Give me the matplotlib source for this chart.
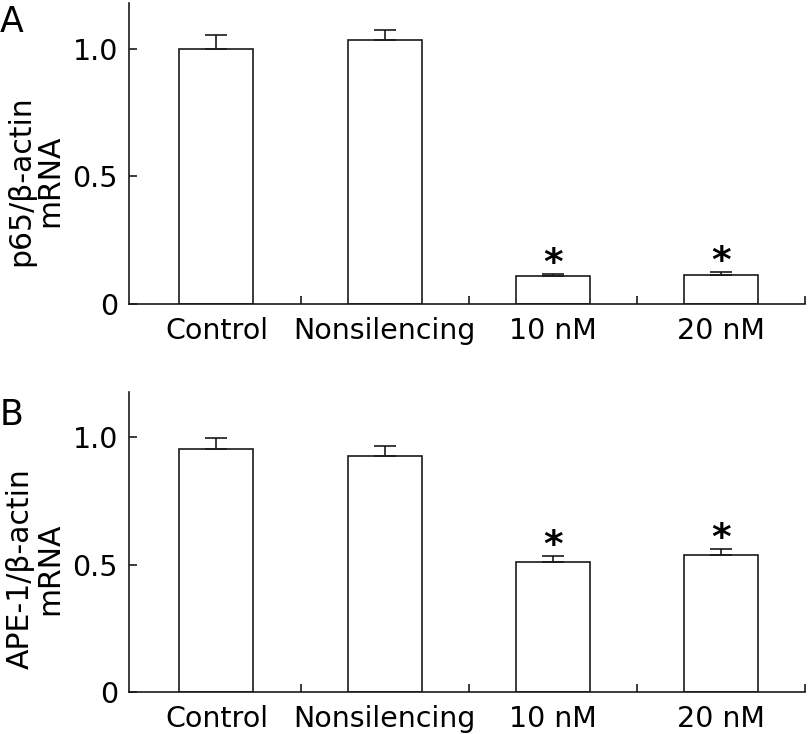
import matplotlib
matplotlib.use("Agg")
import matplotlib.pyplot as plt
import numpy as np

categories = ["Control", "Nonsilencing", "10 nM", "20 nM"]

# panel A: p65 / beta-actin mRNA
p65_mean = [1.00, 1.035, 0.110, 0.113]
p65_err = [0.053, 0.040, 0.007, 0.014]

# panel B: APE-1 / beta-actin mRNA
ape1_mean = [0.955, 0.927, 0.509, 0.537]
ape1_err = [0.043, 0.040, 0.026, 0.026]

significant = [False, False, True, True]

yticks = [0, 0.5, 1.0]
ytick_labels = ["0", "0.5", "1.0"]

plt.rcParams["font.family"] = "DejaVu Sans"
edge = "#1a1a1a"

fig = plt.figure(figsize=(8.09, 7.34), dpi=100)

panels = [
    ("A", "p65/β-actin\nmRNA", p65_mean, p65_err, [0.1595, 0.5858, 0.8355, 0.4101]),
    ("B", "APE-1/β-actin\nmRNA", ape1_mean, ape1_err, [0.1595, 0.0572, 0.8355, 0.4092]),
]

x = np.arange(len(categories))
for letter, ylabel, mean, err, rect in panels:
    ax = fig.add_axes(rect)
    ax.bar(x, mean, width=0.44, color="white", edgecolor=edge, linewidth=1.2)
    ax.errorbar(x, mean, yerr=[np.zeros(len(err)), err], fmt="none",
                ecolor=edge, elinewidth=1.2, capsize=8, capthick=1.2)
    for xi, m, e, sig in zip(x, mean, err, significant):
        if sig:
            ax.annotate("*", (xi, m + e), xytext=(0, 0), textcoords="offset points",
                        ha="center", va="baseline", fontsize=27, fontweight="bold")

    ax.set_xlim(-0.52, 3.5)
    ax.set_ylim(0, 1.18)
    ax.set_xticks(x)
    ax.set_xticklabels(categories, fontsize=20.5)
    ax.set_xticks(x + 0.5, minor=True)
    ax.tick_params(axis="x", which="major", length=0, pad=9)
    ax.tick_params(axis="x", which="minor", direction="in", length=6, width=1.2, color=edge)
    ax.set_yticks(yticks)
    ax.set_yticklabels(ytick_labels, fontsize=20.5)
    ax.tick_params(axis="y", direction="in", length=6, width=1.2, color=edge, pad=8)

    for side in ["top", "right"]:
        ax.spines[side].set_visible(False)
    for side in ["left", "bottom"]:
        ax.spines[side].set_linewidth(1.2)
        ax.spines[side].set_color(edge)

    ax.text(-0.139, 0.41, ylabel, transform=ax.transAxes, rotation=90,
            ha="center", va="center", fontsize=21.5, linespacing=1.0)

fig.text(0.0, 1 - 5 / 734, "A", fontsize=25, ha="left", va="top")
fig.text(0.0, 1 - 398 / 734, "B", fontsize=25, ha="left", va="top")

fig.savefig("out.png", dpi=100)
